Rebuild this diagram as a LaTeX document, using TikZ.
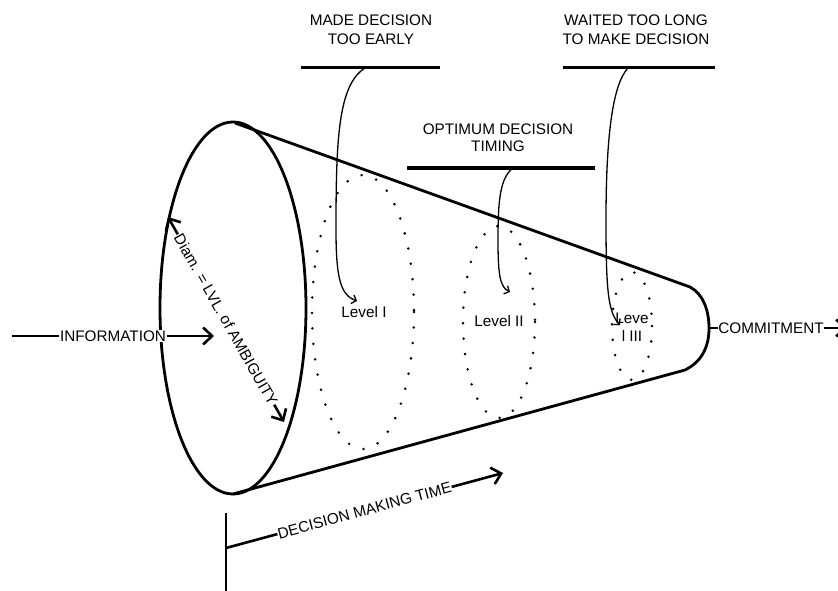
\documentclass[tikz,border=0pt]{standalone}
\usepackage{fontspec}
\setmainfont{Liberation Sans}
\usetikzlibrary{arrows.meta}
\begin{document}
\begin{tikzpicture}[x=1pt,y=-1pt,
  lbl/.style={font=\fontsize{15.3}{19}\selectfont, inner sep=0.5pt},
  heavy/.style={line width=2.8pt},
  barline/.style={line width=3pt},
  callout/.style={line width=1.3pt, -{Straight Barb[length=4pt,width=9pt]}},
  dotring/.style={line width=2.8pt, line cap=round, dash pattern=on 0pt off 15.5pt},
  chev/.style={-{Straight Barb[length=9pt,width=17pt]}},
  dchev/.style={{Straight Barb[length=9pt,width=17pt]}-{Straight Barb[length=9pt,width=17pt]}},
]
\useasboundingbox (0,0) rectangle (838,591);

% cone: mouth, sides and rounded narrow end
\coordinate (mouthTop) at (235,123);
\coordinate (mouthBot) at (233,494);
\coordinate (capTop) at (690,287);
\coordinate (capMid) at (709,328);
\coordinate (capBot) at (685,370);
\draw[heavy] (233,308) ellipse [x radius=73, y radius=186];
\draw[heavy, line join=round] (mouthTop) -- (capTop)
  .. controls (703,294) and (709,310) .. (capMid)
  .. controls (709,348) and (701,362) .. (capBot) -- (mouthBot);

% dotted decision levels
\draw[dotring] (363,312) ellipse [x radius=51, y radius=137];
\draw[dotring] (499,322) ellipse [x radius=36, y radius=96];
\draw[dotring] (632,326) ellipse [x radius=20, y radius=54];

\node[lbl] (lv1) at (364,312) {Level I};
\node[lbl] (lv2) at (499,321) {Level II};
\node[lbl, align=center, font=\fontsize{15.3}{18}\selectfont] (lv3) at (632,327) {Leve\\l III};

% diameter
\coordinate (dA) at (168,217);
\coordinate (dB) at (284,422);
\draw[line width=2.6pt, dchev] (dA) -- node[lbl, sloped, fill=white] {Diam. = LVL. of AMBIGUITY} (dB);

% information in
\node[lbl, fill=white] (info) at (113,336) {INFORMATION};
\coordinate (infoL) at (12,336);
\coordinate (infoT) at (214,336);
\draw[line width=2.6pt] (infoL) -- (info.west);
\draw[line width=2.6pt, chev] (info.east) -- (infoT);

% commitment out
\node[lbl] (commit) at (771,328) {COMMITMENT};
\coordinate (commitT) at (847,328);
\draw[line width=2.6pt] (capMid) -- (commit.west);
\draw[line width=2.6pt, chev] (commit.east) -- (commitT);

% decision making time
\coordinate (barTop) at (226,513);
\coordinate (barBot) at (226,592);
\coordinate (tS) at (226,548);
\coordinate (tE) at (503,473);
\draw[heavy] (barTop) -- (barBot);
\draw[line width=2.6pt, chev] (tS) -- node[lbl, sloped, fill=white] {DECISION MAKING TIME} (tE);

% callout labels
\node[lbl, align=center] (early) at (371,30) {MADE DECISION\\TOO EARLY};
\node[lbl, align=center] (late) at (636,30) {WAITED TOO LONG\\TO MAKE DECISION};
\node[lbl, align=center, font=\fontsize{15.3}{17}\selectfont] (optimum) at (498,138) {OPTIMUM DECISION\\TIMING};

\coordinate (earlyL) at (301,68);
\coordinate (earlyR) at (440,68);
\coordinate (lateL) at (563,68);
\coordinate (lateR) at (715,68);
\coordinate (optL) at (407,168);
\coordinate (optR) at (595,168);
\draw[barline] (earlyL) -- (earlyR);
\draw[barline] (lateL) -- (lateR);
\draw[barline] (optL) -- (optR);

% leaders from the labels to the levels
\coordinate (earlyS) at (365,68);
\coordinate (optS) at (513,168);
\coordinate (lateS) at (628,68);
\coordinate (h1) at (357,301);
\coordinate (h2) at (510,292);
\coordinate (h3) at (620,325);
\draw[callout] (earlyS) .. controls (338,85) and (336,140) .. (336,230)
  .. controls (336,280) and (341,295) .. (h1);
\draw[callout] (optS) .. controls (500,178) and (498,200) .. (498,240)
  .. controls (498,275) and (500,287) .. (h2);
\draw[callout] (lateS) .. controls (612,85) and (606,140) .. (606,220)
  .. controls (606,290) and (608,312) .. (h3);
\end{tikzpicture}
\end{document}
